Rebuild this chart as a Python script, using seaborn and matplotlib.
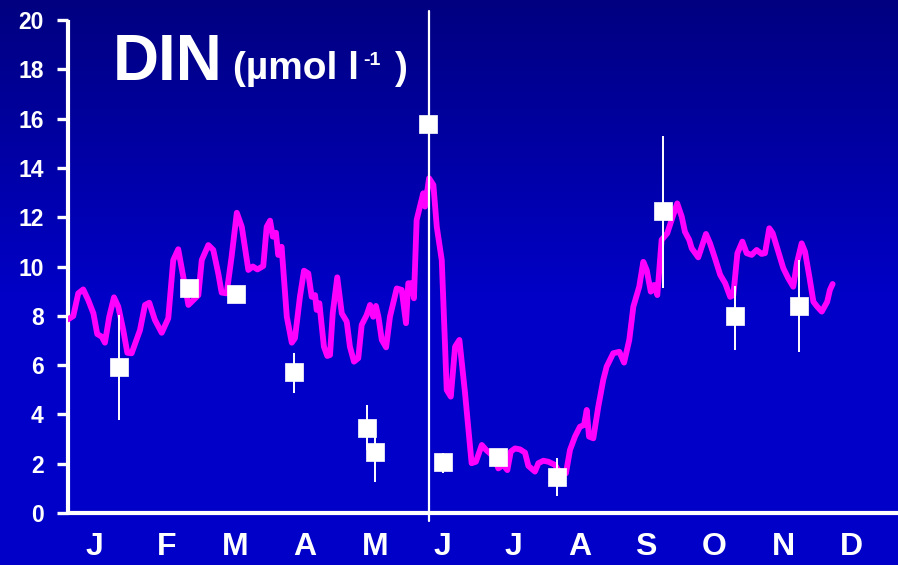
import numpy as np
import pandas as pd
import matplotlib
matplotlib.use("Agg")
import matplotlib.pyplot as plt
import seaborn as sns

# ---------------- data ----------------
months = ["J", "F", "M", "A", "M", "J", "J", "A", "S", "O", "N", "D"]

line_day = [3.4, 5.6, 7.8, 10.0, 12.2, 14.5, 16.2, 18.2, 19.6, 21.5, 23.6, 25.5, 27.7, 29.5,
            31.4, 35.1, 37.3, 39.2, 41.7, 44.7, 47.6, 49.8, 52.0, 54.2, 56.5, 58.7, 60.9, 62.4,
            65.3, 67.5, 69.7, 71.2, 73.4, 75.6, 77.9, 80.1, 83.0, 85.0, 87.0, 89.6, 91.1, 92.6,
            93.8, 95.2, 96.2, 97.7, 100.0, 102.2, 103.6, 105.8, 107.6, 109.5, 111.0, 112.5,
            113.2, 114.4, 116.4, 117.9, 119.1, 120.3, 122.3, 124.3, 126.5, 127.9, 129.7, 131.6,
            133.1, 135.3, 136.8, 138.2, 139.4, 140.5, 142.0, 143.9, 145.6, 148.6, 150.8, 152.7,
            153.7, 155.2, 156.2, 157.4, 159.2, 160.3, 161.1, 162.9, 164.8, 166.3, 168.5, 170.7,
            172.5, 174.4, 176.3, 178.8, 181.7, 183.6, 186.2, 188.1, 189.8, 192.0, 193.5, 195.7,
            197.5, 199.0, 200.9, 203.1, 205.3, 206.8, 209.7, 211.2, 213.4, 215.6, 218.6, 220.0,
            223.4, 225.2, 227.4, 229.6, 231.4, 232.6, 233.6, 235.5, 237.7, 239.9, 241.4, 244.3,
            247.0, 249.1, 251.4, 253.2, 255.8, 257.6, 259.1, 260.9, 262.3, 263.8, 265.7, 268.2,
            270.6, 272.6, 274.6, 276.0, 277.9, 279.0, 281.9, 285.3, 287.1, 289.3, 291.6, 293.8,
            296.0, 297.4, 299.2, 301.4, 303.3, 305.5, 307.7, 309.9, 311.4, 313.3, 314.8, 317.3,
            319.5, 321.7, 323.9, 325.5, 327.6, 329.1, 331.0, 332.8, 334.5, 336.5, 338.9, 340.1,
            341.3]
line_din = [7.86, 7.99, 8.91, 9.07, 8.64, 8.10, 7.26, 7.15, 6.91, 7.96, 8.75, 8.37, 7.42, 6.50,
            6.48, 7.42, 8.44, 8.53, 7.83, 7.31, 7.90, 10.26, 10.70, 9.59, 8.44, 8.64, 8.84, 10.26,
            10.87, 10.67, 9.72, 8.94, 8.91, 10.40, 12.18, 11.61, 9.86, 10.00, 9.88, 10.02, 11.61, 11.86,
            11.21, 11.37, 10.47, 10.80, 7.96, 6.91, 7.09, 8.77, 9.83, 9.72, 8.77, 8.84,
            8.24, 8.51, 6.75, 6.37, 6.41, 8.10, 9.56, 8.10, 7.76, 6.75, 6.14, 6.28,
            7.63, 8.03, 8.44, 7.96, 8.40, 7.96, 7.02, 6.72, 7.96, 9.11, 9.05, 7.70,
            9.32, 9.32, 8.71, 11.89, 12.56, 12.97, 12.43, 13.58, 13.31, 11.61, 10.26, 4.99,
            4.72, 6.75, 7.02, 4.86, 2.02, 2.08, 2.76, 2.56, 2.42, 2.22, 1.81, 1.95,
            1.74, 2.49, 2.62, 2.58, 2.45, 1.91, 1.68, 2.02, 2.12, 2.08, 1.95, 1.74,
            1.61, 2.56, 3.10, 3.50, 3.57, 4.18, 3.10, 3.03, 4.31, 5.40, 5.94, 6.48,
            6.54, 6.10, 7.02, 8.37, 9.18, 10.19, 9.86, 8.98, 9.25, 8.84, 11.08, 11.35,
            12.02, 12.56, 12.02, 11.41, 11.08, 10.74, 10.37, 11.32, 10.94, 10.33, 9.66, 9.32,
            8.77, 8.84, 10.54, 11.01, 10.54, 10.47, 10.67, 10.51, 10.54, 11.55, 11.35, 10.60,
            9.93, 9.52, 9.18, 10.13, 10.94, 10.60, 9.59, 8.57, 8.37, 8.17, 8.57, 9.05,
            9.29]

obs_day = [25.9, 56.9, 77.5, 103.3, 135.3, 139.0, 162.6, 169.2, 193.5, 219.3, 266.2, 298.1, 326.3]
obs_din = [5.91, 9.11, 8.88, 5.71, 3.46, 2.49, 15.78, 2.08, 2.28, 1.45, 12.25, 7.99, 8.41]
obs_lo = [3.77, np.nan, np.nan, 4.88, 2.54, 1.27, np.nan, 1.61, np.nan, 0.69, 9.11, 6.61, 6.54]
obs_hi = [8.03, np.nan, np.nan, 6.50, 4.38, 3.57, np.nan, 2.43, np.nan, 2.22, 15.29, 9.21, 10.26]

month_label_day = [14.9, 46.9, 77.1, 108.0, 139.0, 169.0, 200.0, 229.6, 258.7, 288.9, 319.5, 349.7]

event_day = 162.9

# ---------------- style ----------------
sns.set_style("ticks")
plt.rcParams["font.family"] = ["Liberation Sans", "DejaVu Sans"]

W, H = 898, 565
fig = plt.figure(figsize=(W / 100, H / 100), dpi=100)

# gradient background
bg = fig.add_axes([0, 0, 1, 1], zorder=0)
rows = np.arange(H)
t = np.clip(rows / 300.0, 0, 1)
blue = (128 + (200 - 128) * t) / 255.0
img = np.zeros((H, 1, 3))
img[:, 0, 2] = blue
bg.imshow(img, aspect="auto", extent=[0, 1, 0, 1], origin="upper")
bg.axis("off")

ax = fig.add_axes([68 / W, 52 / H, 830 / W, 493 / H], zorder=1)
ax.patch.set_alpha(0)

line_df = pd.DataFrame({"day": line_day, "din": line_din})
obs_df = pd.DataFrame({"day": obs_day, "din": obs_din, "lo": obs_lo, "hi": obs_hi})

sns.lineplot(data=line_df, x="day", y="din", ax=ax, color="#FF00FF", linewidth=4.2,
             estimator=None, sort=False, zorder=3,
             solid_joinstyle="round", solid_capstyle="round")

eb = obs_df.dropna()
ax.vlines(eb["day"], eb["lo"], eb["hi"], color="white", linewidth=1.4, zorder=4)

ax.axvline(event_day, ymin=-0.016, ymax=1.018, color="white", linewidth=1.6,
           clip_on=False, zorder=5)

sns.scatterplot(data=obs_df, x="day", y="din", ax=ax, marker="s", s=150, color="white",
                edgecolor="white", linewidth=0.5, zorder=6)

ax.set_xlim(3.27, 370.2)
ax.set_ylim(0, 20)
ax.set_yticks(np.arange(0, 21, 2))
ax.set_xticks(month_label_day)
ax.set_xticklabels(months)
ax.set_xlabel("")
ax.set_ylabel("")

for s in ["top", "right"]:
    ax.spines[s].set_visible(False)
for s in ["left", "bottom"]:
    ax.spines[s].set_color("white")
    ax.spines[s].set_linewidth(3)
    ax.spines[s].set_capstyle("butt")

ax.tick_params(axis="y", colors="white", length=8, width=2.4, pad=9.5, labelsize=16.5)
ax.tick_params(axis="x", colors="white", length=0, pad=14, labelsize=23)
for lab in ax.get_yticklabels() + ax.get_xticklabels():
    lab.set_fontweight("bold")
    lab.set_color("white")

# title
fig.text(113 / W, 1 - 80 / H, "DIN", fontsize=46, fontweight="bold", color="white",
         ha="left", va="baseline")
fig.text(233 / W, 1 - 79 / H, "(µmol l", fontsize=28, fontweight="bold", color="white",
         ha="left", va="baseline")
fig.text(363 / W, 1 - 65 / H, "-1", fontsize=14, fontweight="bold", color="white",
         ha="left", va="baseline")
fig.text(395 / W, 1 - 79 / H, ")", fontsize=28, fontweight="bold", color="white",
         ha="left", va="baseline")

fig.savefig("out.png", dpi=100)
